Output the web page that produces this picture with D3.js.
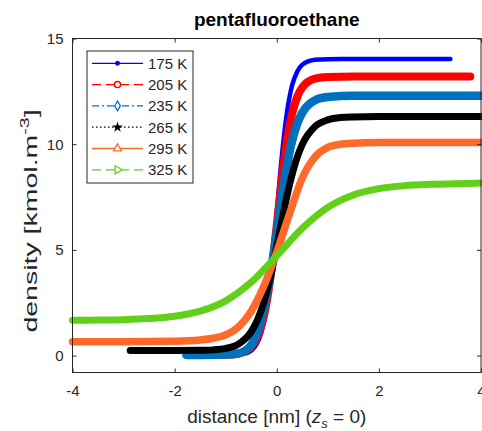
<!DOCTYPE html>
<html>
<head>
<meta charset="utf-8">
<script src="https://cdn.jsdelivr.net/npm/d3@7"></script>
<style>
  html, body { margin: 0; padding: 0; background: #fff; }
  svg { display: block; font-family: "Liberation Sans", Arial, Helvetica, sans-serif; }
</style>
</head>
<body>
<svg id="chart" width="482" height="431"></svg>
<script>
// Density profiles of pentafluoroethane across the vapour-liquid interface
const temperatures = ["175 K", "205 K", "235 K", "265 K", "295 K", "325 K"];

const dist175 = [-0.9, -0.6, -0.4, -0.3, -0.2, -0.1, 0, 0.1, 0.2, 0.3, 0.4, 0.5, 0.75, 1, 1.5, 2, 3, 3.4];
const rho175  = [0.02, 0.11, 0.52, 1.10, 2.21, 4.12, 6.74, 9.44, 11.51, 12.78, 13.43, 13.76, 13.99, 14.02, 14.03, 14.03, 14.03, 14.03];

const dist205 = [-1.06, -0.75, -0.5, -0.4, -0.3, -0.2, -0.1, 0, 0.1, 0.2, 0.3, 0.4, 0.5, 0.75, 1, 1.5, 2, 3, 3.79];
const rho205  = [0.03, 0.10, 0.42, 0.78, 1.42, 2.49, 4.11, 6.17, 8.33, 10.15, 11.43, 12.23, 12.69, 13.10, 13.18, 13.2, 13.2, 13.2, 13.2];

const dist235 = [-1.77, -1.5, -1, -0.75, -0.5, -0.4, -0.3, -0.2, -0.1, 0, 0.1, 0.2, 0.3, 0.4, 0.5, 0.75, 1, 1.5, 2, 3, 4];
const rho235  = [0.03, 0.03, 0.05, 0.10, 0.50, 1.00, 1.75, 2.82, 4.19, 5.82, 7.50, 8.99, 10.15, 10.97, 11.49, 12.08, 12.23, 12.29, 12.29, 12.29, 12.29];

const dist265 = [-2.87, -2.5, -2, -1.5, -1.25, -1, -0.75, -0.5, -0.375, -0.25, -0.125, 0, 0.125, 0.25, 0.375, 0.5, 0.75, 1, 1.25, 1.5, 2, 3, 4];
const rho265  = [0.24, 0.24, 0.24, 0.25, 0.27, 0.34, 0.54, 1.13, 1.70, 2.55, 3.72, 5.16, 6.69, 8.08, 9.20, 9.99, 10.84, 11.15, 11.26, 11.29, 11.31, 11.31, 11.31];

const dist295 = [-4, -3, -2, -1.5, -1.25, -1, -0.75, -0.5, -0.25, 0, 0.25, 0.5, 0.75, 1, 1.25, 1.5, 2, 3, 4];
const rho295  = [0.66, 0.66, 0.68, 0.74, 0.82, 0.98, 1.35, 2.1, 3.3, 4.9, 6.7, 8.4, 9.4, 9.85, 10.0, 10.05, 10.08, 10.08, 10.08];

const dist325 = [-4, -3.5, -3, -2.5, -2, -1.5, -1, -0.5, 0, 0.5, 1, 1.5, 2, 2.5, 3, 3.5, 4];
const rho325  = [1.67, 1.68, 1.70, 1.75, 1.86, 2.10, 2.59, 3.47, 4.72, 6.02, 7.01, 7.60, 7.90, 8.04, 8.10, 8.13, 8.16];

const xTicks = [-4, -2, 0, 2, 4];
const yTicks = [0, 5, 10, 15];

const series = [
  { name: temperatures[0], x: dist175, y: rho175, color: "#0000ff", width: 4.5, dash: null,      marker: "dot" },
  { name: temperatures[1], x: dist205, y: rho205, color: "#ff0000", width: 8,   dash: "9,5",     marker: "circle" },
  { name: temperatures[2], x: dist235, y: rho235, color: "#0072bd", width: 8.5, dash: "7,3,2,3", marker: "diamond" },
  { name: temperatures[3], x: dist265, y: rho265, color: "#000000", width: 7,   dash: "1.5,2.5", marker: "star" },
  { name: temperatures[4], x: dist295, y: rho295, color: "#ff6a2a", width: 7.5, dash: null,      marker: "triangle" },
  { name: temperatures[5], x: dist325, y: rho325, color: "#62d01a", width: 7,   dash: "9,5",     marker: "right" }
];

const svg = d3.select("#chart");
const axisColor = "#262626";
const plot = { left: 72.5, right: 481, top: 38.5, bottom: 372.5 };

const x = d3.scaleLinear().domain([-4, 4]).range([plot.left, plot.right]);
const y = d3.scaleLinear().domain([-0.8, 15]).range([plot.bottom, plot.top]);

// curves
const line = d3.line().x(d => x(d[0])).y(d => y(d[1])).curve(d3.curveMonotoneX);
const curves = svg.append("g");
series.forEach(s => {
  const pts = s.x.map((v, i) => [v, s.y[i]]);
  curves.append("path")
    .attr("d", line(pts))
    .attr("fill", "none")
    .attr("stroke", s.color)
    .attr("stroke-width", s.width)
    .attr("stroke-linecap", "round")
    .attr("stroke-linejoin", "round");
});

// axes box with inward ticks on all four sides
const axes = svg.append("g").attr("font-size", 15).attr("fill", axisColor);
axes.append("rect")
  .attr("x", plot.left).attr("y", plot.top)
  .attr("width", plot.right - plot.left).attr("height", plot.bottom - plot.top)
  .attr("fill", "none").attr("stroke", axisColor).attr("stroke-width", 1);

const xAxis = d3.axisBottom(x).tickValues(xTicks).tickSizeInner(-4).tickSizeOuter(0).tickPadding(13);
const gx = axes.append("g").attr("transform", `translate(0,${plot.bottom})`).call(xAxis);
const xAxisTop = d3.axisTop(x).tickValues(xTicks).tickSizeInner(-4).tickSizeOuter(0).tickFormat("");
const gxt = axes.append("g").attr("transform", `translate(0,${plot.top})`).call(xAxisTop);
const yAxis = d3.axisLeft(y).tickValues(yTicks).tickSizeInner(-4).tickSizeOuter(0).tickPadding(9);
const gy = axes.append("g").attr("transform", `translate(${plot.left},0)`).call(yAxis);
const yAxisRight = d3.axisRight(y).tickValues(yTicks).tickSizeInner(-4).tickSizeOuter(0).tickFormat("");
const gyr = axes.append("g").attr("transform", `translate(${plot.right},0)`).call(yAxisRight);

[gx, gxt, gy, gyr].forEach(g => {
  g.select(".domain").remove();
  g.selectAll("line").attr("stroke", axisColor);
  g.selectAll("text").attr("fill", axisColor).attr("font-size", 15)
    .attr("font-family", "'Liberation Sans', Arial, sans-serif");
});
gx.selectAll("text").text(d => d < 0 ? "-" + Math.abs(d) : d);

// title
svg.append("text")
  .attr("x", (plot.left + plot.right) / 2).attr("y", 26)
  .attr("text-anchor", "middle").attr("font-weight", "bold").attr("font-size", 19)
  .attr("fill", "#000").text("pentafluoroethane");

// x label
const xl = svg.append("text")
  .attr("x", (plot.left + plot.right) / 2).attr("y", 423)
  .attr("text-anchor", "middle").attr("font-size", 19).attr("fill", axisColor);
xl.append("tspan").text("distance [nm] (");
xl.append("tspan").attr("font-style", "italic").text("z");
xl.append("tspan").attr("font-style", "italic").attr("font-size", 13).attr("dy", 5).text("s");
xl.append("tspan").attr("dy", -5).text(" = 0)");

// y label
const yl = svg.append("text")
  .attr("transform", `translate(37,221) rotate(-90) scale(1.5,1)`)
  .attr("text-anchor", "middle").attr("font-size", 19).attr("fill", axisColor);
yl.append("tspan").text("density [kmol.m");
yl.append("tspan").attr("font-size", 13).attr("dy", -8).text("-3");
yl.append("tspan").attr("dy", 8).text("]");

// legend
const legend = svg.append("g");
const lg = { x0: 87, y0: 51, w: 106, h: 132, row0: 63.3, step: 21.3 };
legend.append("rect")
  .attr("x", lg.x0).attr("y", lg.y0).attr("width", lg.w).attr("height", lg.h)
  .attr("fill", "#fff").attr("stroke", axisColor).attr("stroke-width", 1);

const markerPath = {
  dot:      d3.symbol(d3.symbolCircle, 10)(),
  circle:   d3.symbol(d3.symbolCircle, 30)(),
  diamond:  d3.symbol(d3.symbolDiamond, 28)(),
  star:     d3.symbol(d3.symbolStar, 14)(),
  triangle: d3.symbol(d3.symbolTriangle, 28)(),
  right:    d3.symbol(d3.symbolTriangle, 28)()
};

series.forEach((s, i) => {
  const cy = lg.row0 + i * lg.step;
  legend.append("line")
    .attr("x1", 92).attr("x2", 143).attr("y1", cy).attr("y2", cy)
    .attr("stroke", s.color).attr("stroke-width", 1.3)
    .attr("stroke-dasharray", s.dash);
  const filled = s.marker === "dot" || s.marker === "star";
  legend.append("path")
    .attr("d", markerPath[s.marker])
    .attr("transform", `translate(117.5,${cy})` + (s.marker === "right" ? " rotate(90)" : ""))
    .attr("fill", filled ? s.color : "#fff")
    .attr("stroke", s.color).attr("stroke-width", 1.3);
  legend.append("text")
    .attr("x", 148).attr("y", cy + 5.5)
    .attr("font-size", 15).attr("fill", axisColor).text(s.name);
});
</script>
</body>
</html>
